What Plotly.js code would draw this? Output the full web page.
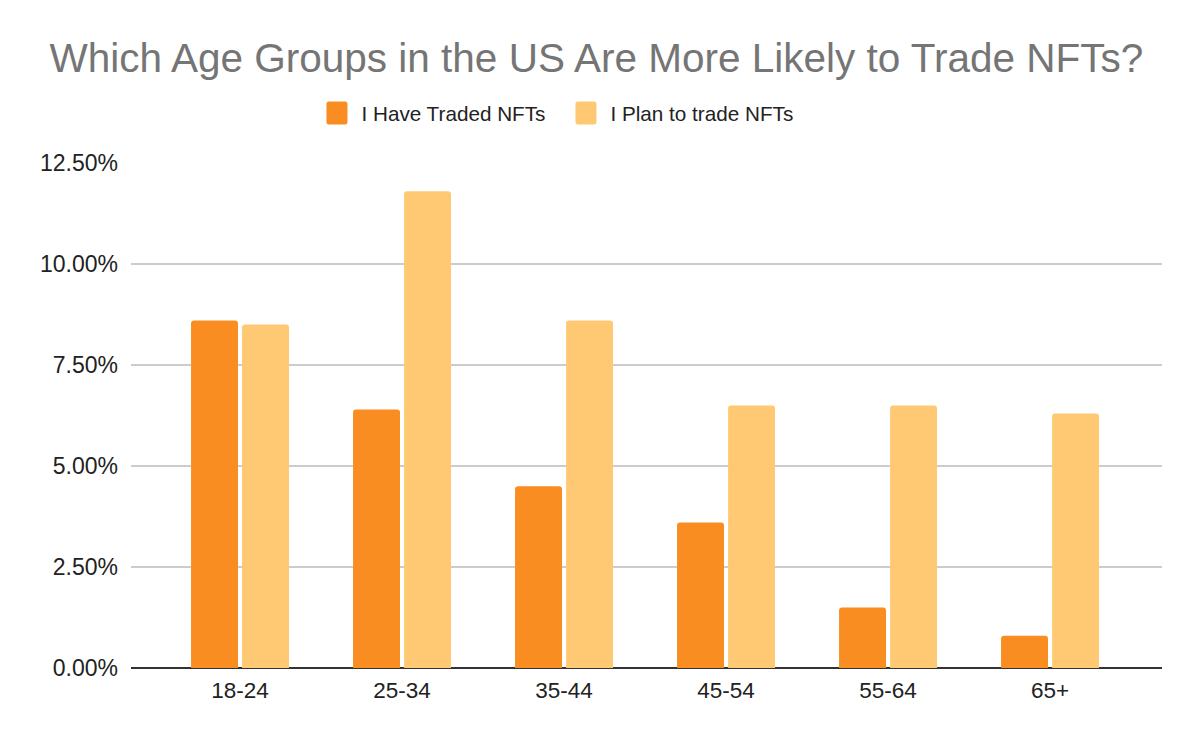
<!DOCTYPE html>
<html>
<head>
<meta charset="utf-8">
<script src="https://cdn.plot.ly/plotly-3.0.1.min.js"></script>
<style>
  html, body { margin: 0; padding: 0; background: #fff; }
  #chart { width: 1200px; height: 742px; }
</style>
</head>
<body>
<div id="chart"></div>
<script>
var ageGroups = ['18-24', '25-34', '35-44', '45-54', '55-64', '65+'];
var haveTraded = [0.086, 0.064, 0.045, 0.036, 0.015, 0.008];
var planToTrade = [0.085, 0.118, 0.086, 0.065, 0.065, 0.063];
var yTicks = [0, 0.025, 0.05, 0.075, 0.1, 0.125];

var font = 'Liberation Sans, Arial, sans-serif';

var traded = {
    x: ageGroups,
    y: haveTraded,
    name: 'I Have Traded NFTs',
    type: 'bar',
    marker: { color: '#FA8D22', cornerradius: 3 },
    hoverinfo: 'x+y'
};

var plan = {
    x: ageGroups,
    y: planToTrade,
    name: 'I Plan to trade NFTs',
    type: 'bar',
    marker: { color: '#FFC974', cornerradius: 3 },
    hoverinfo: 'x+y'
};

var layout = {
    width: 1200,
    height: 742,
    paper_bgcolor: '#fff',
    plot_bgcolor: '#fff',
    font: { family: font, color: '#222' },
    title: {
        text: 'Which Age Groups in the US Are More Likely to Trade NFTs?',
        font: { family: font, size: 40.5, color: '#757575' },
        x: 0.497,
        xanchor: 'center',
        y: 0.922,
        yanchor: 'middle'
    },
    showlegend: true,
    legend: {
        orientation: 'h',
        x: 0.176,
        xanchor: 'left',
        y: 1.099,
        yanchor: 'middle',
        font: { family: font, size: 20.7, color: '#222' },
        itemwidth: 39,
        entrywidth: 195,
        entrywidthmode: 'pixels',
        traceorder: 'normal'
    },
    margin: { l: 131, r: 38, t: 163, b: 74 },
    barmode: 'group',
    bargap: 0.37,
    bargroupgap: 0.08,
    xaxis: {
        type: 'category',
        range: [-0.673, 5.691],
        showgrid: false,
        showline: false,
        ticks: '',
        tickfont: { family: font, size: 22.5, color: '#222' },
        ticklabelstandoff: 6
    },
    yaxis: {
        range: [0, 0.125],
        tickvals: yTicks,
        tickformat: '.2%',
        showgrid: true,
        gridcolor: '#CCCCCC',
        gridwidth: 1.5,
        zeroline: true,
        zerolinecolor: '#333333',
        zerolinewidth: 2,
        ticks: '',
        tickfont: { family: font, size: 23, color: '#222' },
        ticklabelstandoff: 12
    }
};

Plotly.newPlot('chart', [traded, plan], layout, { displayModeBar: false, staticPlot: true }).then(function (gd) {
    // the reference uses larger, rounded legend swatches
    var swatch = 'M-8,-11.5H8A2.5,2.5 0 0 1 10.5,-9V9A2.5,2.5 0 0 1 8,11.5H-8A2.5,2.5 0 0 1 -10.5,9V-9A2.5,2.5 0 0 1 -8,-11.5Z';
    gd.querySelectorAll('.legendpoints path').forEach(function (p) {
        p.setAttribute('d', swatch);
        p.style.strokeWidth = '0';
    });
});
</script>
</body>
</html>
